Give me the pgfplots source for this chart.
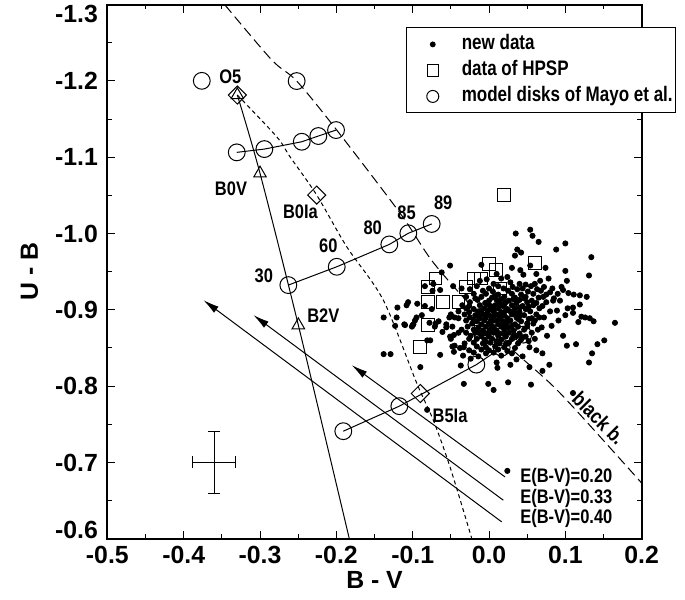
\documentclass[border=0pt]{standalone}
\usepackage{fontspec}
\setmainfont{Liberation Sans}
\newfontfamily\nf{Liberation Sans}[FakeStretch=0.84]
\newfontfamily\lf{Liberation Sans}[FakeStretch=0.81]
\usepackage{pgfplots}
\usepackage{pgfplotstable}
\pgfplotsset{compat=1.18}
\usetikzlibrary{arrows.meta,calc}

\newcommand\tf{\bfseries\fontsize{12.4}{12}\selectfont}
\newcommand\af{\nf\bfseries\fontsize{9.8}{10}\selectfont}

% new data (B-V, U-B)
\pgfplotstableread{
x y
0.054 -1.005
0.035 -1.000
0.057 -0.997
0.065 -0.989
0.100 -0.987
0.088 -0.979
0.037 -0.979
0.042 -0.975
0.034 -0.971
0.134 -0.969
-0.051 -0.958
-0.010 -0.959
0.054 -0.958
0.074 -0.955
0.041 -0.952
0.030 -0.955
0.100 -0.951
-0.062 -0.949
0.062 -0.947
0.010 -0.947
0.045 -0.946
0.131 -0.945
0.016 -0.941
0.024 -0.943
0.078 -0.941
-0.003 -0.940
0.067 -0.938
0.102 -0.938
-0.012 -0.938
0.028 -0.936
-0.073 -0.934
0.006 -0.934
0.040 -0.934
0.048 -0.933
0.060 -0.934
-0.084 -0.931
-0.047 -0.931
-0.016 -0.931
0.012 -0.931
0.031 -0.930
0.055 -0.931
0.072 -0.930
0.095 -0.930
-0.036 -0.928
-0.025 -0.927
0.000 -0.928
0.019 -0.928
0.037 -0.927
0.044 -0.928
0.063 -0.927
0.083 -0.928
0.097 -0.926
-0.074 -0.925
-0.064 -0.926
-0.008 -0.925
0.005 -0.924
0.025 -0.925
0.051 -0.924
0.068 -0.925
0.080 -0.923
0.104 -0.922
-0.020 -0.921
-0.004 -0.921
0.012 -0.920
0.030 -0.921
0.042 -0.920
0.058 -0.921
0.075 -0.920
0.090 -0.921
0.111 -0.920
0.119 -0.919
0.128 -0.917
-0.030 -0.917
-0.010 -0.917
0.004 -0.916
0.020 -0.917
0.034 -0.916
0.048 -0.917
0.065 -0.916
0.071 -0.917
0.085 -0.915
-0.015 -0.913
0.000 -0.912
0.010 -0.913
0.026 -0.912
0.040 -0.913
0.056 -0.912
0.084 -0.912
0.093 -0.912
-0.106 -0.910
-0.094 -0.908
-0.025 -0.910
-0.005 -0.909
0.014 -0.909
0.022 -0.910
0.036 -0.909
0.050 -0.910
0.062 -0.909
0.075 -0.910
-0.084 -0.905
-0.035 -0.906
-0.012 -0.906
0.002 -0.905
0.008 -0.906
0.018 -0.905
0.030 -0.906
0.044 -0.905
0.058 -0.906
0.070 -0.905
0.110 -0.903
0.119 -0.907
-0.075 -0.901
-0.030 -0.902
-0.020 -0.901
-0.006 -0.902
0.004 -0.901
0.012 -0.902
0.024 -0.901
0.034 -0.902
0.048 -0.901
0.066 -0.902
0.089 -0.899
0.103 -0.902
-0.040 -0.898
-0.026 -0.897
-0.014 -0.898
-0.002 -0.897
0.006 -0.898
0.016 -0.897
0.028 -0.898
0.040 -0.897
0.054 -0.898
0.080 -0.898
0.110 -0.896
-0.050 -0.894
-0.032 -0.894
-0.018 -0.893
-0.008 -0.894
0.000 -0.893
0.010 -0.894
0.020 -0.893
0.030 -0.894
0.046 -0.893
0.062 -0.894
0.100 -0.893
0.121 -0.891
-0.095 -0.890
-0.052 -0.890
-0.045 -0.890
-0.040 -0.889
-0.025 -0.890
-0.012 -0.889
-0.004 -0.890
0.004 -0.889
0.014 -0.890
0.024 -0.889
0.036 -0.890
0.056 -0.889
0.072 -0.890
0.126 -0.890
0.132 -0.889
-0.097 -0.886
-0.030 -0.886
-0.016 -0.885
-0.006 -0.886
0.002 -0.885
0.008 -0.886
0.018 -0.885
0.028 -0.886
0.042 -0.885
0.060 -0.886
0.091 -0.886
0.137 -0.885
-0.111 -0.881
-0.099 -0.881
-0.078 -0.883
-0.070 -0.882
-0.022 -0.882
-0.010 -0.881
0.000 -0.882
0.012 -0.881
0.022 -0.882
0.034 -0.881
0.050 -0.882
0.082 -0.879
0.117 -0.884
0.165 -0.883
-0.101 -0.878
-0.071 -0.878
-0.056 -0.877
-0.028 -0.878
-0.014 -0.877
-0.004 -0.878
0.006 -0.877
0.016 -0.878
0.026 -0.877
0.038 -0.878
0.069 -0.877
-0.036 -0.874
-0.020 -0.874
-0.008 -0.873
0.002 -0.874
0.010 -0.873
0.020 -0.874
0.032 -0.873
0.046 -0.874
0.064 -0.874
-0.061 -0.871
-0.030 -0.870
-0.014 -0.870
-0.004 -0.869
0.006 -0.870
0.014 -0.869
0.026 -0.870
0.040 -0.869
0.056 -0.870
-0.051 -0.865
-0.046 -0.867
-0.024 -0.866
-0.010 -0.866
0.000 -0.865
0.012 -0.866
0.022 -0.865
0.036 -0.866
0.048 -0.865
0.076 -0.866
0.097 -0.866
-0.026 -0.862
-0.016 -0.862
-0.006 -0.861
0.004 -0.862
0.016 -0.861
0.030 -0.862
0.042 -0.861
0.060 -0.862
-0.081 -0.860
0.151 -0.860
0.052 -0.859
-0.032 -0.856
-0.020 -0.857
-0.008 -0.856
0.002 -0.857
0.014 -0.856
0.026 -0.857
0.038 -0.856
0.142 -0.855
0.114 -0.855
0.102 -0.853
-0.048 -0.852
-0.033 -0.851
-0.016 -0.852
-0.004 -0.851
0.008 -0.852
0.020 -0.851
0.034 -0.850
0.053 -0.851
-0.026 -0.847
-0.010 -0.848
0.000 -0.847
0.012 -0.848
0.024 -0.846
0.062 -0.847
-0.064 -0.841
-0.046 -0.845
-0.020 -0.844
-0.004 -0.843
0.006 -0.844
0.030 -0.843
0.070 -0.843
0.135 -0.843
-0.034 -0.840
-0.014 -0.839
0.016 -0.840
0.044 -0.839
-0.024 -0.836
0.036 -0.835
0.131 -0.831
0.010 -0.831
0.079 -0.828
-0.037 -0.827
0.028 -0.828
-0.090 -0.825
0.053 -0.825
0.011 -0.824
0.070 -0.820
0.025 -0.805
-0.033 -0.803
-0.001 -0.803
0.055 -0.802
0.006 -0.795
0.110 -0.791
-0.081 -0.769
0.024 -0.689
-0.120 -0.903
-0.138 -0.890
-0.121 -0.890
-0.123 -0.879
-0.110 -0.880
-0.100 -0.880
-0.138 -0.842
-0.129 -0.842
-0.077 -0.860
-0.056 -0.881
-0.048 -0.878
-0.040 -0.870
-0.038 -0.850
-0.050 -0.862
-0.026 -0.905
-0.045 -0.853
-0.108 -0.906
-0.088 -0.893
-0.066 -0.885
-0.018 -0.915
0.008 -0.919
0.016 -0.914
0.032 -0.914
0.046 -0.915
-0.001 -0.907
0.010 -0.903
0.020 -0.907
0.040 -0.903
0.052 -0.904
-0.010 -0.899
0.000 -0.900
0.022 -0.899
0.034 -0.896
-0.014 -0.892
0.006 -0.892
0.016 -0.891
0.040 -0.892
-0.020 -0.887
0.012 -0.887
0.024 -0.884
0.038 -0.888
0.004 -0.879
0.020 -0.880
0.030 -0.879
-0.018 -0.870
0.000 -0.871
0.020 -0.868
0.032 -0.866
-0.004 -0.858
0.010 -0.859
0.022 -0.855
0.044 -0.864
0.050 -0.878
0.058 -0.882
0.066 -0.890
0.052 -0.888
}\newdata

% data of HPSP
\pgfplotstableread{
x y
0.020 -1.050
0.000 -0.960
0.009 -0.952
0.060 -0.961
-0.070 -0.941
-0.080 -0.930
-0.020 -0.941
-0.010 -0.941
-0.030 -0.930
0.014 -0.928
-0.080 -0.910
-0.060 -0.910
-0.040 -0.910
-0.080 -0.880
-0.090 -0.851
-0.010 -0.871
}\hpsp

\begin{document}
\begin{tikzpicture}
\begin{axis}[
  name=ax,
  scale only axis,
  width=267pt, height=267pt,
  xmin=-0.5, xmax=0.2,
  ymin=-1.3, ymax=-0.6,
  y dir=reverse,
  clip=false,
  xtick={-0.5,-0.4,-0.3,-0.2,-0.1,0,0.1,0.2},
  xticklabels={-0.5,-0.4,-0.3,-0.2,-0.1,0.0,0.1,0.2},
  ytick={-1.3,-1.2,-1.1,-1.0,-0.9,-0.8,-0.7,-0.6},
  yticklabels={,-1.2,-1.1,-1.0,-0.9,-0.8,-0.7,},
  minor tick num=1,
  tick align=inside,
  major tick length=4pt,
  minor tick length=2.2pt,
  every tick/.style={black, line width=0.5pt},
  axis line style={line width=1pt},
  tick label style={font=\tf},
  yticklabel style={xshift=-1.2pt},
  xlabel={B - V},
  ylabel={U - B},
  label style={font=\tf},
  xlabel style={at={(axis description cs:0.5,-0.0775)}, anchor=center},
  ylabel style={at={(axis description cs:-0.146,0.5)}, anchor=center},
  legend style={at={(axis description cs:0.5594,0.957)}, anchor=north west,
    draw=black, line width=0.5pt, fill=white,
    font=\lf\bfseries\fontsize{10.5}{10.5}\selectfont,
    inner xsep=1pt, inner ysep=3pt, row sep=2.6pt,
    nodes={inner sep=0.5pt, text height=7.4pt, text depth=2pt},
    cells={anchor=west}},
  legend image code/.code={\path[draw=none,fill=none] (0pt,0pt) -- (26pt,0pt);
    \draw[mark repeat=2,mark phase=2,#1]
    plot coordinates {(0pt,0pt)(12pt,0pt)(24pt,0pt)};},
]
\addlegendimage{only marks, mark=*, mark size=1.2pt, black}
\addlegendentry{new data}
\addlegendimage{only marks, mark=square, mark size=2.8pt, black, line width=0.5pt}
\addlegendentry{data of HPSP}
\addlegendimage{only marks, mark=o, mark size=3pt, black, line width=0.5pt}
\addlegendentry{model disks of Mayo et al.}

% black body line
\addplot[forget plot, black, line width=0.5pt, dash pattern=on 5pt off 2.5pt, smooth]
  coordinates {(-0.3458,-1.2993) (-0.2846,-1.2273) (-0.2519,-1.1997) (-0.1995,-1.1355)
  (-0.1166,-1.0267) (-0.0734,-0.9625) (-0.0161,-0.8970) (0.0314,-0.8472)
  (0.0930,-0.7910) (0.2000,-0.6730)};
% supergiant sequence
\addplot[forget plot, black, line width=0.5pt, dash pattern=on 2pt off 1.6pt, smooth]
  coordinates {(-0.3297,-1.1814) (-0.2781,-1.1267) (-0.2607,-1.1005) (-0.2257,-1.0503)
  (-0.1864,-0.9826) (-0.1385,-0.9127) (-0.0947,-0.8040) (-0.0730,-0.7555)
  (-0.0511,-0.6942) (-0.0227,-0.6008)};
% main sequence
\addplot[forget plot, black, line width=0.5pt, smooth]
  coordinates {(-0.3297,-1.1814) (-0.3000,-1.0788) (-0.2498,-0.8799) (-0.1830,-0.6000)};

% model disk sequences
\addplot[forget plot, black, line width=0.5pt, mark=o, mark size=4.2pt]
  coordinates {(-0.3305,-1.1063) (-0.2943,-1.1106) (-0.2453,-1.1202) (-0.2236,-1.1277) (-0.2004,-1.1355)};
\addplot[forget plot, black, line width=0.5pt, mark=o, mark size=4.2pt]
  coordinates {(-0.2629,-0.9324) (-0.1995,-0.9564) (-0.1306,-0.9857) (-0.1057,-1.0003) (-0.0751,-1.0125)};
\addplot[forget plot, black, line width=0.5pt, mark=o, mark size=4.2pt]
  coordinates {(-0.1909,-0.7410) (-0.1175,-0.7738) (-0.0166,-0.8282) (0.0166,-0.8505) (0.0449,-0.8675)};
\addplot[forget plot, only marks, black, line width=0.5pt, mark=o, mark size=4.2pt]
  coordinates {(-0.3763,-1.2000) (-0.2520,-1.1997)};

% reddening vectors
\addplot[forget plot, black, line width=0.5pt, -{Latex[length=8pt,width=3.8pt]}]
  coordinates {(0.0166,-0.6222) (-0.3742,-0.9127)};
\addplot[forget plot, black, line width=0.5pt, -{Latex[length=8pt,width=3.8pt]}]
  coordinates {(0.0187,-0.6506) (-0.3087,-0.8931)};
\addplot[forget plot, black, line width=0.5pt, -{Latex[length=8pt,width=3.8pt]}]
  coordinates {(0.0210,-0.6811) (-0.1799,-0.8275)};

% typical error
\addplot[forget plot, black, line width=0.5pt, {Bar[width=6pt]}-{Bar[width=6pt]}]
  coordinates {(-0.389,-0.700) (-0.331,-0.700)};
\addplot[forget plot, black, line width=0.5pt, {Bar[width=6pt]}-{Bar[width=6pt]}]
  coordinates {(-0.360,-0.741) (-0.360,-0.659)};

% HPSP and new data
\addplot[forget plot, only marks, black, line width=0.5pt, mark=square, mark size=3.2pt]
  table[x=x,y=y] {\hpsp};
\addplot[forget plot, only marks, black, mark=*, mark size=1.3pt]
  table[x=x,y=y] {\newdata};

% spectral type points
\addplot[forget plot, only marks, black, line width=0.5pt, mark=square,
  mark options={rotate=45, fill=white}, mark size=3.2pt]
  coordinates {(-0.3297,-1.1814) (-0.2257,-1.0503) (-0.0900,-0.7904)};
\addplot[forget plot, only marks, black, line width=0.5pt, mark=triangle, mark size=3.6pt]
  coordinates {(-0.3297,-1.1814) (-0.3000,-1.0788) (-0.2498,-0.8799)};

% labels
\node[font=\af] at (axis cs:-0.339,-1.205) {O5};
\node[font=\af] at (axis cs:-0.338,-1.059) {B0V};
\node[font=\af] at (axis cs:-0.247,-1.029) {B0Ia};
\node[font=\af] at (axis cs:-0.217,-0.8925) {B2V};
\node[font=\af] at (axis cs:-0.051,-0.7614) {B5Ia};
\node[font=\af] at (axis cs:-0.295,-0.945) {30};
\node[font=\af] at (axis cs:-0.2105,-0.984) {60};
\node[font=\af] at (axis cs:-0.1524,-1.008) {80};
\node[font=\af] at (axis cs:-0.108,-1.027) {85};
\node[font=\af] at (axis cs:-0.060,-1.040) {89};
\node[font=\nf\bfseries\fontsize{10.3}{10}\selectfont, rotate=-45, inner sep=0pt] at (axis cs:0.144,-0.758) {black b.};
\node[font=\af, anchor=west] at (axis cs:0.0318,-0.6806) {E(B-V)=0.20};
\node[font=\af, anchor=west] at (axis cs:0.0318,-0.6523) {E(B-V)=0.33};
\node[font=\af, anchor=west] at (axis cs:0.0318,-0.6261) {E(B-V)=0.40};

% end tick labels, set inside like the original
\node[font=\tf, anchor=east, xshift=-1.2pt, yshift=-4.75pt] at (axis description cs:0,1) {-1.3};
\node[font=\tf, anchor=east, xshift=-1.2pt, yshift=4.5pt] at (axis description cs:0,0) {-0.6};
\end{axis}
\pgfresetboundingbox
\path ($(ax.south west)+(-53.65pt,-30.25pt)$) rectangle ($(ax.north east)+(21.65pt,2.25pt)$);
\end{tikzpicture}
\end{document}
